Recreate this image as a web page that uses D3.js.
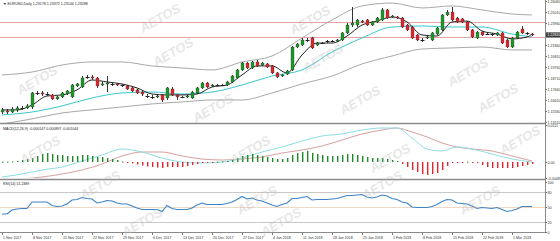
<!DOCTYPE html>
<html>
<head>
<meta charset="utf-8">
<script src="https://cdn.jsdelivr.net/npm/d3@7"></script>
<style>
  html, body { margin: 0; padding: 0; background: #fff; }
  svg { display: block; font-family: "Liberation Sans", Arial, sans-serif; }
</style>
</head>
<body>
<svg id="chart" width="560" height="241"></svg>
<script>
// EURUSD daily candles
const opens = [1.1546,1.1556,1.1546,1.1566,1.1585,1.1585,1.1594,1.1728,1.1728,1.1718,
  1.1709,1.1671,1.1690,1.1718,1.1690,1.1795,1.1785,1.1881,1.1881,1.1871,
  1.1804,1.1814,1.1814,1.1814,1.1804,1.1795,1.1776,1.1757,1.1737,1.1699,
  1.1690,1.1690,1.1709,1.1680,1.1766,1.1709,1.1690,1.1690,1.1680,1.1728,
  1.1776,1.1823,1.1795,1.1804,1.1804,1.1804,1.1833,1.1871,1.1948,1.2014,
  1.1967,1.2024,1.1995,1.2005,1.1986,1.1919,1.1890,1.1909,1.1948,1.2167,
  1.2186,1.2234,1.2253,1.2186,1.2205,1.2224,1.2224,1.2224,1.2234,1.2301,
  1.2377,1.2377,1.2415,1.2425,1.2377,1.2406,1.2425,1.2521,1.2454,1.2454,
  1.2444,1.2377,1.2358,1.2282,1.2234,1.2253,1.2234,1.2291,1.2330,1.2473,
  1.2501,1.2444,1.2435,1.2406,1.2330,1.2253,1.2310,1.2291,1.2291,1.2282,
  1.2301,1.2234,1.2167,1.2253,1.2339,1.2301,1.2291];
const highs = [1.1585,1.1575,1.1594,1.1604,1.1604,1.1623,1.1737,1.1747,1.1747,1.1737,
  1.1718,1.1699,1.1737,1.1757,1.1814,1.1823,1.1890,1.1900,1.1900,1.1881,
  1.1833,1.1890,1.1823,1.1823,1.1814,1.1804,1.1785,1.1766,1.1747,1.1718,
  1.1709,1.1709,1.1718,1.1785,1.1785,1.1718,1.1699,1.1709,1.1747,1.1785,
  1.1833,1.1833,1.1814,1.1814,1.1814,1.1843,1.1900,1.1957,1.2024,1.2024,
  1.2033,1.2043,1.2024,1.2014,1.1995,1.1928,1.1909,1.1948,1.2177,1.2205,
  1.2253,1.2253,1.2263,1.2215,1.2215,1.2234,1.2234,1.2244,1.2310,1.2396,
  1.2549,1.2435,1.2425,1.2435,1.2415,1.2454,1.2540,1.2530,1.2473,1.2463,
  1.2454,1.2387,1.2368,1.2291,1.2253,1.2272,1.2310,1.2358,1.2482,1.2521,
  1.2549,1.2454,1.2444,1.2415,1.2339,1.2320,1.2320,1.2301,1.2301,1.2310,
  1.2310,1.2244,1.2263,1.2320,1.2368,1.2310,1.2301];
const lows = [1.1527,1.1527,1.1537,1.1546,1.1566,1.1575,1.1575,1.1709,1.1699,1.1699,
  1.1661,1.1661,1.1680,1.1709,1.1680,1.1785,1.1776,1.1862,1.1852,1.1776,
  1.1795,1.1737,1.1795,1.1795,1.1785,1.1757,1.1737,1.1718,1.1699,1.1680,
  1.1671,1.1680,1.1642,1.1661,1.1699,1.1661,1.1680,1.1680,1.1671,1.1718,
  1.1766,1.1776,1.1785,1.1795,1.1795,1.1795,1.1823,1.1862,1.1938,1.1957,
  1.1957,1.1976,1.1986,1.1967,1.1909,1.1871,1.1881,1.1900,1.1938,1.2158,
  1.2177,1.2215,1.2148,1.2177,1.2196,1.2205,1.2215,1.2215,1.2224,1.2291,
  1.2358,1.2358,1.2396,1.2368,1.2368,1.2396,1.2415,1.2435,1.2444,1.2435,
  1.2349,1.2320,1.2244,1.2224,1.2215,1.2244,1.2224,1.2282,1.2320,1.2463,
  1.2415,1.2396,1.2396,1.2320,1.2253,1.2244,1.2272,1.2282,1.2272,1.2272,
  1.2196,1.2158,1.2158,1.2244,1.2291,1.2282,1.2272];
const closes = [1.1566,1.1546,1.1575,1.1585,1.1587,1.1604,1.1728,1.1726,1.1718,1.1720,
  1.1671,1.1690,1.1728,1.1747,1.1804,1.1814,1.1871,1.1879,1.1871,1.1795,
  1.1814,1.1823,1.1812,1.1804,1.1802,1.1766,1.1747,1.1728,1.1718,1.1697,
  1.1688,1.1699,1.1661,1.1776,1.1709,1.1690,1.1692,1.1699,1.1737,1.1776,
  1.1823,1.1785,1.1804,1.1806,1.1802,1.1833,1.1890,1.1948,1.2014,1.1967,
  1.2024,1.1986,1.2014,1.1976,1.1919,1.1881,1.1900,1.1938,1.2167,1.2196,
  1.2234,1.2232,1.2158,1.2205,1.2203,1.2222,1.2226,1.2234,1.2301,1.2377,
  1.2396,1.2425,1.2406,1.2377,1.2406,1.2444,1.2521,1.2444,1.2463,1.2444,
  1.2358,1.2330,1.2253,1.2234,1.2232,1.2263,1.2301,1.2349,1.2473,1.2501,
  1.2425,1.2406,1.2406,1.2330,1.2263,1.2310,1.2282,1.2289,1.2293,1.2301,
  1.2205,1.2167,1.2253,1.2310,1.2301,1.2299,1.2282];

// overlays (bollinger bands, slow MA) read every 6th candle
const bandIdx = [0,6,12,18,24,30,36,42,48,54,60,66,72,78,84,90,96,102,106];
const upperBand = [1.1900,1.1928,1.1995,1.2024,1.2024,1.1986,1.1967,1.1948,1.2024,1.2081,1.2253,1.2425,1.2559,1.2587,1.2540,1.2559,1.2521,1.2482,1.2473];
const lowerBand = [1.1432,1.1480,1.1537,1.1566,1.1594,1.1623,1.1642,1.1661,1.1661,1.1728,1.1814,1.1890,1.2005,1.2081,1.2148,1.2158,1.2167,1.2139,1.2139];
const slowMa = [1.1518,1.1546,1.1604,1.1680,1.1728,1.1737,1.1718,1.1737,1.1804,1.1890,1.1948,1.2119,1.2253,1.2358,1.2368,1.2358,1.2358,1.2291,1.2263];
// fast MA read every 3rd candle
const fastIdx = [0,3,6,9,12,15,18,21,24,27,30,33,36,39,42,45,48,51,54,57,60,63,66,69,72,75,78,81,84,87,90,93,96,99,102,105,106];
const fastMa = [1.1566,1.1566,1.1613,1.1699,1.1709,1.1757,1.1852,1.1833,1.1814,1.1776,1.1718,1.1709,1.1709,1.1718,1.1785,1.1804,1.1900,1.1986,1.1986,1.1919,1.2091,1.2205,1.2205,1.2272,1.2377,1.2415,1.2454,1.2406,1.2282,1.2272,1.2406,1.2415,1.2320,1.2291,1.2244,1.2263,1.2291];
const refLines = [1.2406, 1.2263];
const priceTicks = [1.2606,1.2501,1.2396,1.2186,1.2081,1.1976,1.1871,1.1766,1.1661,1.1556,1.1451];
const lastPrice = 1.2282;

// MACD
const macdHist = [0.0001,0.0001,0.00015,0.0003,0.0006,0.0009,0.0012,0.0018,0.0024,0.0027,
  0.0024,0.0021,0.0021,0.0018,0.0018,0.0018,0.0021,0.0021,0.0018,0.0015,
  0.0015,0.0012,0.0009,0.0006,0.00015,-0.00015,-0.00045,-0.00075,-0.00105,-0.00135,
  -0.0015,-0.00165,-0.0018,-0.0015,-0.0015,-0.0015,-0.0015,-0.0012,-0.0009,-0.0006,
  -0.0003,-0.00015,-0.0001,0.0001,0.00015,0.0003,0.0006,0.0012,0.0018,0.0021,
  0.0024,0.0021,0.0018,0.0015,0.0012,0.0009,0.0009,0.0012,0.0021,0.0027,
  0.0030,0.0033,0.0027,0.0024,0.0021,0.0018,0.0018,0.0018,0.0021,0.0024,
  0.0024,0.0021,0.0018,0.0015,0.0012,0.0012,0.0012,0.0009,0.0006,0.0003,
  -0.0006,-0.0015,-0.0024,-0.0030,-0.0036,-0.0039,-0.0036,-0.0033,-0.0024,-0.0012,
  -0.0003,-0.00015,-0.0001,0.0001,-0.0001,-0.00015,-0.0009,-0.0015,-0.0018,-0.0018,
  -0.0018,-0.0018,-0.0018,-0.0015,-0.0012,-0.0009,-0.0006];
const macdIdx = [0,4,8,12,16,20,24,28,32,36,40,44,48,52,56,60,64,68,72,76,79,82,85,88,91,94,98,102,106];
const macdLine = [-0.0045,-0.0036,-0.0024,-0.0015,0.0003,0.0021,0.0039,0.0030,0.0012,0,-0.0003,0,0.0012,0.0030,0.0045,0.0063,0.0078,0.0084,0.0096,0.0102,0.0102,0.0072,0.0039,0.0033,0.0045,0.0039,0.0024,0.0009,0];
const signalLine = [-0.0054,-0.0051,-0.0045,-0.0036,-0.0024,-0.0006,0.0018,0.0030,0.0030,0.0018,0.0009,0.0006,0.0009,0.0015,0.0027,0.0036,0.0048,0.0066,0.0084,0.0096,0.0102,0.0090,0.0075,0.0057,0.0045,0.0039,0.0033,0.0018,0.0003];
const macdTicks = [0.0111, 0, -0.0048];

// RSI(14)
const rsi = [36,36,44,46,47,47,60,60,60,60,53,51,52,56,64,65,69,67,66,58,
  60,63,62,58,56,56,52,48,45,45,45,45,41,53,47,45,45,45,48,54,
  58,55,55,55,55,57,60,65,71,66,68,64,62,58,54,51,55,58,67,67,
  69,71,64,65,65,65,66,67,70,73,73,74,75,70,68,70,74,72,67,65,
  60,58,50,49,49,49,51,55,61,65,64,58,57,56,52,47,49,48,47,49,
  45,41,43,46,51,51,51];
const rsiLevels = [80, 50, 20];
const rsiTicks = [100, 80, 50, 20, 0];

// time axis
const dateIdx = [0,6,12,18,24,30,36,42,48,54,60,66,72,78,84,90,96,102];
const dateLabels = ['1 Nov 2017','8 Nov 2017','15 Nov 2017','22 Nov 2017','29 Nov 2017','6 Dec 2017',
  '13 Dec 2017','20 Dec 2017','27 Dec 2017','4 Jan 2018','11 Jan 2018','18 Jan 2018','25 Jan 2018',
  '1 Feb 2018','8 Feb 2018','15 Feb 2018','22 Feb 2018','1 Mar 2018'];

const svg = d3.select('#chart');
const plotR = 545;
const N = closes.length;
const fs = 3.6;

const x = d3.scaleLinear().domain([0, N - 1]).range([2, 532]);
const yMain = d3.scaleLinear().domain([1.1441, 1.2616]).range([123, 0]);
const yMacd = d3.scaleLinear().domain([-0.0048, 0.0111]).range([178, 125]);
const yRsi = d3.scaleLinear().domain([0, 100]).range([232, 182]);

const defs = svg.append('defs');
[['clipMain', 0, 123], ['clipMacd', 125, 178], ['clipRsi', 181, 232]].forEach(([id, t, b]) => {
  defs.append('clipPath').attr('id', id).append('rect')
    .attr('x', 0).attr('y', t).attr('width', plotR).attr('height', b - t);
});

// ---- main panel ----
const main = svg.append('g').attr('clip-path', 'url(#clipMain)');

main.selectAll('line.ref').data(refLines).join('line')
  .attr('x1', 0).attr('x2', plotR)
  .attr('y1', d => Math.round(yMain(d)) + 0.5).attr('y2', d => Math.round(yMain(d)) + 0.5)
  .attr('stroke', '#e4a3a3').attr('stroke-width', 1.2);

const curve = d3.curveMonotoneX;
function overlay(g, idx, vals, y, color, width) {
  g.append('path')
    .datum(idx.map((k, j) => [k, vals[j]]))
    .attr('fill', 'none').attr('stroke', color).attr('stroke-width', width)
    .attr('d', d3.line().x(d => x(d[0])).y(d => y(d[1])).curve(curve));
}
overlay(main, bandIdx, upperBand, yMain, '#a9a9a9', 1);
overlay(main, bandIdx, lowerBand, yMain, '#a9a9a9', 1);
overlay(main, bandIdx, slowMa, yMain, '#3cc6cf', 1);
overlay(main, fastIdx, fastMa, yMain, '#222', 1);

const idx = d3.range(N);
main.selectAll('line.wick').data(idx).join('line')
  .attr('x1', i => Math.round(x(i)) + 0.5).attr('x2', i => Math.round(x(i)) + 0.5)
  .attr('y1', i => yMain(highs[i])).attr('y2', i => yMain(lows[i]))
  .attr('stroke', '#333').attr('stroke-width', 1);

main.selectAll('rect.body').data(idx.filter(i => Math.abs(opens[i] - closes[i]) >= 0.0003)).join('rect')
  .attr('x', i => Math.round(x(i)) - 1)
  .attr('width', 3)
  .attr('y', i => yMain(Math.max(opens[i], closes[i])))
  .attr('height', i => Math.max(1, Math.abs(yMain(opens[i]) - yMain(closes[i]))))
  .attr('fill', i => closes[i] > opens[i] ? '#1b9a2a' : '#e0262c')
  .attr('stroke', '#2a2a2a').attr('stroke-width', 0.3);

main.selectAll('line.doji').data(idx.filter(i => Math.abs(opens[i] - closes[i]) < 0.0003)).join('line')
  .attr('x1', i => Math.round(x(i)) - 1.5).attr('x2', i => Math.round(x(i)) + 2.5)
  .attr('y1', i => Math.round(yMain(closes[i])) + 0.5).attr('y2', i => Math.round(yMain(closes[i])) + 0.5)
  .attr('stroke', '#222').attr('stroke-width', 1);

// ---- MACD panel ----
const macd = svg.append('g').attr('clip-path', 'url(#clipMacd)');
overlay(macd, macdIdx, signalLine, yMacd, '#d9a0a0', 1);
overlay(macd, macdIdx, macdLine, yMacd, '#8fdde3', 1);
macd.selectAll('rect.hist').data(idx).join('rect')
  .attr('x', i => Math.round(x(i)))
  .attr('width', 1.4)
  .attr('y', i => Math.min(yMacd(0), yMacd(macdHist[i])))
  .attr('height', i => Math.max(1, Math.abs(yMacd(macdHist[i]) - yMacd(0))))
  .attr('fill', i => macdHist[i] >= 0 ? '#1f8a2a' : '#e0262c');

// ---- RSI panel ----
const rsiG = svg.append('g').attr('clip-path', 'url(#clipRsi)');
rsiG.selectAll('line.lvl').data(rsiLevels).join('line')
  .attr('x1', 0).attr('x2', plotR)
  .attr('y1', d => Math.round(yRsi(d)) + 0.5).attr('y2', d => Math.round(yRsi(d)) + 0.5)
  .attr('stroke', d => d === 50 ? '#efd9c4' : '#c8c8c8').attr('stroke-width', 1);
rsiG.append('path').datum(idx)
  .attr('fill', 'none').attr('stroke', '#3d84c6').attr('stroke-width', 1.1)
  .attr('d', d3.line().x(i => x(i)).y(i => yRsi(rsi[i])));

// ---- frames ----
const frame = svg.append('g');
[[123.5, 1.6], [179.5, 1.6], [232.5, 1]].forEach(([y, w]) => {
  frame.append('line').attr('x1', 0).attr('x2', plotR + 1).attr('y1', y).attr('y2', y)
    .attr('stroke', '#8a8a8a').attr('stroke-width', w);
});
frame.append('line').attr('x1', plotR + 0.5).attr('x2', plotR + 0.5).attr('y1', 0).attr('y2', 233)
  .attr('stroke', '#8a8a8a').attr('stroke-width', 1);

// ---- axes (right side, MT4 style labels) ----
function rightAxis(axis) {
  svg.append('g').attr('transform', `translate(${plotR},0)`).call(axis)
    .call(g => g.select('.domain').remove())
    .call(g => g.selectAll('text').attr('font-size', fs).attr('font-family', null).attr('fill', '#333').attr('x', 2.5))
    .call(g => g.selectAll('line').attr('stroke', '#777'));
}
rightAxis(d3.axisRight(yMain).tickValues(priceTicks).tickSize(2).tickFormat(d3.format('.5f')));
rightAxis(d3.axisRight(yMacd).tickValues(macdTicks).tickSize(2)
  .tickFormat(d => d === 0 ? '0.00' : d.toFixed(4)));
rightAxis(d3.axisRight(yRsi).tickValues(rsiTicks).tickSize(2));

const lp = svg.append('g').attr('transform', `translate(${plotR + 1},${yMain(lastPrice)})`);
lp.append('rect').attr('x', 0).attr('y', -2.6).attr('width', 14).attr('height', 5.2).attr('fill', '#3b3b3b');
lp.append('text').attr('x', 1.3).attr('y', 1.3).attr('font-size', fs).attr('fill', '#fff').text(lastPrice.toFixed(5));

// ---- time axis ----
const timeG = svg.append('g');
timeG.selectAll('line').data(dateIdx).join('line')
  .attr('x1', i => Math.round(x(i)) + 0.5).attr('x2', i => Math.round(x(i)) + 0.5)
  .attr('y1', 233).attr('y2', 235).attr('stroke', '#777');
timeG.selectAll('text').data(dateIdx).join('text')
  .attr('x', i => x(i) + 1).attr('y', 239)
  .attr('font-size', fs).attr('fill', '#333')
  .text((d, j) => dateLabels[j]);

// ---- titles ----
const titles = [
  [3, 4.5, '\u25BC EURUSD,Daily  1.23178 1.23372 1.23144 1.23288'],
  [3, 129.5, 'MACD(12,26,9) -0.000147 0.000897 -0.001044'],
  [3, 185, 'RSI(14) 51.2389']
];
svg.selectAll('text.title').data(titles).join('text').attr('class', 'title')
  .attr('x', d => d[0]).attr('y', d => d[1]).attr('font-size', fs).attr('fill', '#222')
  .text(d => d[2]);

// ---- watermarks ----
const marks = [[37,80],[160,18],[173,52],[213,108],[310,20],[323,58],[360,100],[468,72],[498,98],
  [390,158],[520,140],[100,185],[142,222],[257,200],[281,222],[382,185],[480,200],[40,150],[250,150]];
svg.append('g').selectAll('text').data(marks).join('text')
  .attr('transform', d => `translate(${d[0]},${d[1]}) rotate(-30)`)
  .attr('text-anchor', 'middle').attr('dy', '0.35em')
  .attr('font-size', 13).attr('font-weight', 'bold').attr('font-style', 'italic')
  .attr('fill', '#bbb').attr('opacity', 0.35)
  .text('AETOS');
</script>
</body>
</html>
